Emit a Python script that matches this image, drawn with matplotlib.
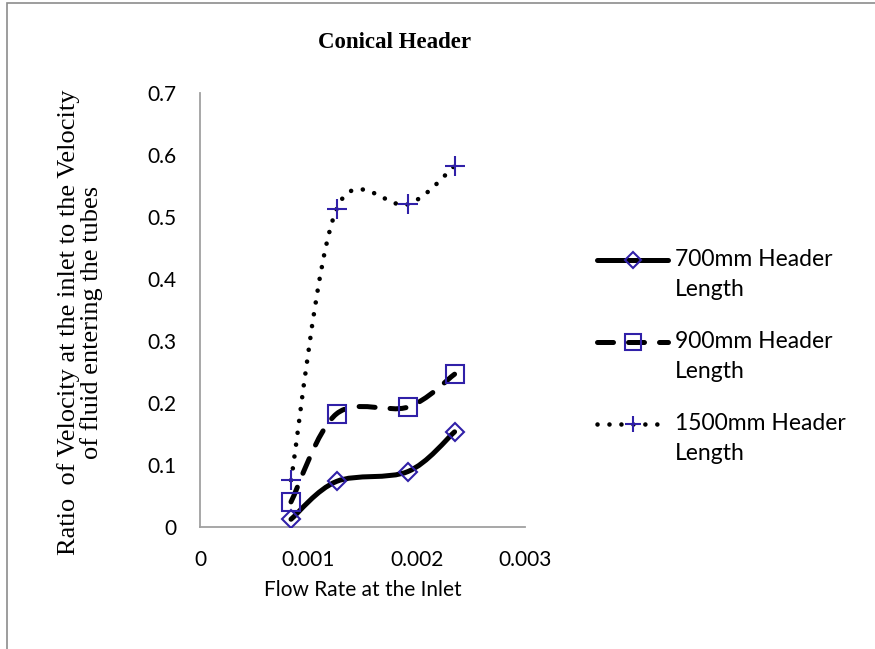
import matplotlib
matplotlib.use("Agg")
import matplotlib.pyplot as plt
from matplotlib.path import Path
from matplotlib.patches import PathPatch, Rectangle
from matplotlib.lines import Line2D

plt.rcParams['font.family'] = ['Lato', 'DejaVu Sans']

# data
flow = [0.00084, 0.00126, 0.00192, 0.00235]
h700 = [0.012, 0.073, 0.089, 0.153]
h900 = [0.040, 0.182, 0.193, 0.246]
h1500 = [0.075, 0.512, 0.520, 0.582]
labels = ['700mm Header\nLength', '900mm Header\nLength', '1500mm Header\nLength']
xticks = [0, 0.001, 0.002, 0.003]
xticklabels = ['0', '0.001', '0.002', '0.003']
yticks = [0, 0.1, 0.2, 0.3, 0.4, 0.5, 0.6, 0.7]
yticklabels = ['0', '0.1', '0.2', '0.3', '0.4', '0.5', '0.6', '0.7']

W, H = 875, 649
MCOL = '#3020a8'


def smooth_path(xs, ys):
    # excel-like smoothed line: cubic bezier segments through the points
    pts = list(zip(xs, ys))
    verts = [pts[0]]
    codes = [Path.MOVETO]
    n = len(pts)
    for i in range(n - 1):
        p0 = pts[i - 1] if i > 0 else pts[i]
        p1 = pts[i]
        p2 = pts[i + 1]
        p3 = pts[i + 2] if i + 2 < n else pts[i + 1]
        c1 = (p1[0] + (p2[0] - p0[0]) / 6, p1[1] + (p2[1] - p0[1]) / 6)
        c2 = (p2[0] - (p3[0] - p1[0]) / 6, p2[1] - (p3[1] - p1[1]) / 6)
        verts += [c1, c2, p2]
        codes += [Path.CURVE4] * 3
    return Path(verts, codes)


def fx(px):
    return px / W


def fy(py):
    return 1 - py / H


styles = [
    dict(lw=3.6, dashes=None, marker='D', ms=9),
    dict(lw=3.6, dashes=(3.2, 3.0), marker='s', ms=13),
    dict(lw=3.3, dashes=(0.01, 2.6), marker='+', ms=14),
]
series = [h700, h900, h1500]

fig = plt.figure(figsize=(W / 100, H / 100), dpi=100)
fig.add_artist(Rectangle((fx(7), fy(660)), fx(880), 657 / H, transform=fig.transFigure,
                         fill=False, edgecolor='#8c8c8c', lw=1.2))

ax = fig.add_axes([fx(200), fy(526.7), fx(325), 434 / H])

for ys, st in zip(series, styles):
    patch = PathPatch(smooth_path(flow, ys), facecolor='none', edgecolor='black',
                      lw=st['lw'], capstyle='round', joinstyle='round', zorder=2)
    if st['dashes']:
        patch.set_linestyle((0, st['dashes']))
    ax.add_patch(patch)
    ax.plot(flow, ys, linestyle='none', marker=st['marker'], ms=st['ms'],
            mfc='none', mec=MCOL, mew=1.5, zorder=3)

ax.set_xlim(0, 0.003)
ax.set_ylim(0, 0.7)
ax.set_xticks(xticks)
ax.set_xticklabels(xticklabels)
ax.set_yticks(yticks)
ax.set_yticklabels(yticklabels)
ax.tick_params(length=0, pad=17, labelsize=15)
for s in ['top', 'right']:
    ax.spines[s].set_visible(False)
for s in ['left', 'bottom']:
    ax.spines[s].set_color('#a0a0a0')
    ax.spines[s].set_linewidth(1.3)

ax.set_xlabel('Flow Rate at the Inlet', fontsize=15, va='center')
ax.xaxis.set_label_coords(0.5, (526.7 - 590) / 434)
ax.set_ylabel('Ratio  of Velocity at the inlet to the Velocity\nof fluid entering the tubes',
              family='Liberation Serif', fontsize=19, va='center', ha='center',
              linespacing=1.0)
ax.yaxis.set_label_coords((80 - 200) / 325, 0.47)

fig.text(fx(395), fy(43), 'Conical Header', family='Liberation Serif', weight='bold',
         fontsize=16.5, ha='center', va='center')

# legend, drawn by hand so the handle sits on the first text line
leg_y = [260, 342, 424]
for lab, st, yy in zip(labels, styles, leg_y):
    ln = Line2D([fx(597), fx(668)], [fy(yy), fy(yy)], transform=fig.transFigure,
                color='black', lw=st['lw'], solid_capstyle='round', dash_capstyle='round')
    if st['dashes']:
        ln.set_dashes(st['dashes'])
    fig.add_artist(ln)
    fig.add_artist(Line2D([fx(632.5)], [fy(yy)], transform=fig.transFigure, linestyle='none',
                          marker=st['marker'], ms=st['ms'] * 0.85, mfc='none', mec=MCOL, mew=1.5))
    fig.text(fx(675), fy(yy - 11), lab, fontsize=16.5, ha='left', va='top', linespacing=1.55)

fig.savefig('out.png', dpi=100)
